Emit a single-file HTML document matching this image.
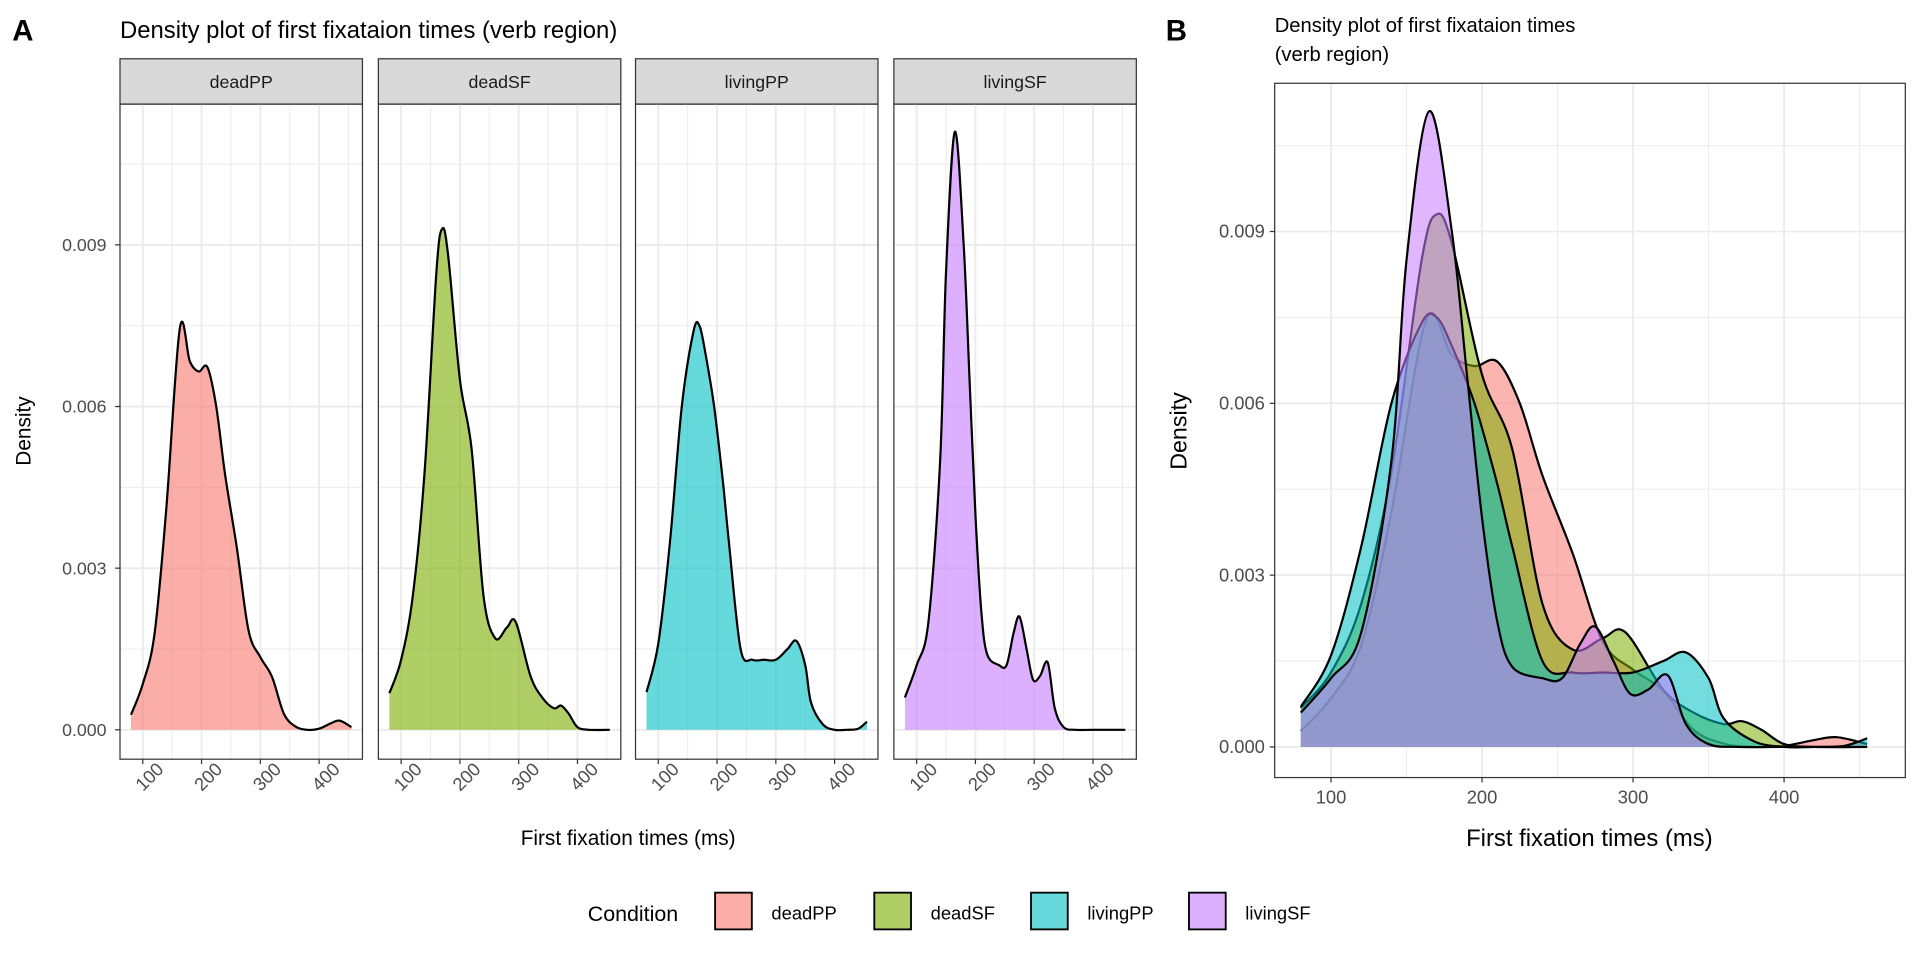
<!DOCTYPE html>
<html><head><meta charset="utf-8">
<style>
html,body{margin:0;padding:0;background:#fff;}
svg{display:block;font-family:"Liberation Sans",Arial,sans-serif;}
</style></head>
<body>
<svg id="chart" width="1920" height="960" viewBox="0 0 1568 784" xmlns="http://www.w3.org/2000/svg">
<rect width="1568" height="784" fill="#fff"/>
<g id="panelA"></g>
<g id="panelB"></g>
<g id="legend"></g>
</svg>
<script>
const conditions = ["deadPP","deadSF","livingPP","livingSF"];
const colors = ["#F8766D","#7CAE00","#00BFC4","#C77CFF"];
const xDeadPP = [80,100,120,140,163,180,195,210,225,240,260,280,300,320,340,360,380,400,420,435,455];
const yDeadPP = [0.00028,0.00085,0.00178,0.0041,0.00745,0.00684,0.00665,0.00673,0.0060,0.00474,0.00338,0.00184,0.00135,0.00098,0.0003,0.00006,0,0.00002,0.00012,0.00017,0.00005];
const xDeadSF = [80,100,120,140,160,170,180,200,220,240,260,280,295,320,340,360,372,385,400,420,455];
const yDeadSF = [0.00068,0.0013,0.0025,0.0048,0.0085,0.0093,0.0088,0.0065,0.0052,0.0025,0.0017,0.0019,0.0020,0.0010,0.0006,0.0004,0.00045,0.0003,0.00005,0,0];
const xLivingPP = [80,100,120,140,160,170,180,195,210,220,240,260,280,300,320,335,350,360,380,400,420,440,455];
const yLivingPP = [0.0007,0.0016,0.0035,0.0060,0.0074,0.0075,0.0070,0.0060,0.0046,0.0035,0.0015,0.0013,0.0013,0.0013,0.0015,0.00165,0.0012,0.0005,0.0001,0,0,0.00002,0.00015];
const xLivingSF = [80,100,120,140,150,165,180,190,200,210,220,240,253,265,275,287,298,310,323,335,350,370,400,455];
const yLivingSF = [0.0006,0.0012,0.0020,0.0050,0.0085,0.0111,0.0090,0.0065,0.0040,0.0022,0.0014,0.0012,0.0012,0.0018,0.0021,0.0015,0.00093,0.0010,0.00125,0.0004,0.00005,0,0,0];
const seriesX = [xDeadPP,xDeadSF,xLivingPP,xLivingSF];
const seriesY = [yDeadPP,yDeadSF,yLivingPP,yLivingSF];
const xTicks = [100,200,300,400];
const xMinor = [150,250,350,450];
const yTicks = [0,0.003,0.006,0.009];
const yTickLabels = ["0.000","0.003","0.006","0.009"];
const yMinor = [0.0015,0.0045,0.0075,0.0105];

const NS="http://www.w3.org/2000/svg";
function mk(tag,attrs,parent,text){const e=document.createElementNS(NS,tag);for(const k in attrs)e.setAttribute(k,attrs[k]);if(text!==undefined)e.textContent=text;parent.appendChild(e);return e;}
function smoothPath(pts){let d="M"+pts[0][0].toFixed(2)+","+pts[0][1].toFixed(2);
 for(let i=0;i<pts.length-1;i++){const p0=pts[Math.max(0,i-1)],p1=pts[i],p2=pts[i+1],p3=pts[Math.min(pts.length-1,i+2)];
  const c1=[p1[0]+(p2[0]-p0[0])/6,p1[1]+(p2[1]-p0[1])/6],c2=[p2[0]-(p3[0]-p1[0])/6,p2[1]-(p3[1]-p1[1])/6];
  d+="C"+c1[0].toFixed(2)+","+c1[1].toFixed(2)+" "+c2[0].toFixed(2)+","+c2[1].toFixed(2)+" "+p2[0].toFixed(2)+","+p2[1].toFixed(2);}
 return d;}
function drawDensity(g,xs,ys,sx,sy,color,op,name){
 const pts=xs.map((x,i)=>[sx(x),sy(ys[i])]);
 const line=smoothPath(pts);
 const area=mk("path",{d:line+"L"+pts[pts.length-1][0]+","+sy(0)+"L"+pts[0][0]+","+sy(0)+"Z",fill:color,"fill-opacity":op,stroke:"none"},g);
 
 
 const ln=mk("path",{d:line,fill:"none",stroke:"#000","stroke-width":1.8,"stroke-linejoin":"round"},g);
 
 
}
const A=document.getElementById("panelA");
const t1=mk("text",{x:10,y:33,"font-size":24,"font-weight":"bold"},A,"A");

const t2=mk("text",{x:98,y:31,"font-size":19.5},A,"Density plot of first fixataion times (verb region)");

const aTop=85,aBot=620;
const syA=v=>596-v*44000;
const facetL=[98,309,519,730],facetW=198;
yTicks.forEach((v,i)=>{const tl=mk("text",{x:87,y:syA(v)+5,"text-anchor":"end","font-size":14.5,fill:"#4d4d4d"},A,yTickLabels[i]);
 
 mk("line",{x1:94,x2:98,y1:syA(v),y2:syA(v),stroke:"#333","stroke-width":1},A);});
const yt=mk("text",{x:0,y:0,transform:"translate(25,352) rotate(-90)","text-anchor":"middle","font-size":17},A,"Density");

facetL.forEach((L,f)=>{
 const g=mk("g",{},A);
 
 const sx=v=>L+(v-61.25)*0.48;
 mk("rect",{x:L,y:48,width:facetW,height:37,fill:"#d9d9d9",stroke:"#333","stroke-width":1},g);
 const sl=mk("text",{x:L+facetW/2,y:72,"text-anchor":"middle","font-size":14.5,fill:"#1a1a1a"},g,conditions[f]);
 
 yMinor.forEach(v=>mk("line",{x1:L,x2:L+facetW,y1:syA(v),y2:syA(v),stroke:"#ebebeb","stroke-width":0.8},g));
 xMinor.forEach(v=>{if(sx(v)<L+facetW)mk("line",{x1:sx(v),x2:sx(v),y1:aTop,y2:aBot,stroke:"#ebebeb","stroke-width":0.8},g);});
 yTicks.forEach(v=>mk("line",{x1:L,x2:L+facetW,y1:syA(v),y2:syA(v),stroke:"#ebebeb","stroke-width":1.5},g));
 xTicks.forEach(v=>mk("line",{x1:sx(v),x2:sx(v),y1:aTop,y2:aBot,stroke:"#ebebeb","stroke-width":1.5},g));
 drawDensity(g,seriesX[f],seriesY[f],sx,syA,colors[f],0.6,conditions[f]);
 mk("rect",{x:L,y:aTop,width:facetW,height:aBot-aTop,fill:"none",stroke:"#333","stroke-width":1},g);
 xTicks.forEach(v=>{mk("line",{x1:sx(v),x2:sx(v),y1:aBot,y2:aBot+4,stroke:"#333","stroke-width":1},g);
  const xl=mk("text",{x:0,y:0,transform:`translate(${sx(v)+9},${aBot+18}) rotate(-45)`,"text-anchor":"middle","font-size":15,fill:"#4d4d4d"},g,String(v));
  });
});
const xt=mk("text",{x:513,y:690,"text-anchor":"middle","font-size":17},A,"First fixation times (ms)");


const B=document.getElementById("panelB");
const bL=1041,bR=1556,bT=68,bB=635;
const sxB=v=>1087+(v-100)*1.2333;
const syB=v=>610-v*46770;
const b1=mk("text",{x:952,y:33,"font-size":24,"font-weight":"bold"},B,"B");

const b2=mk("text",{x:1041,y:26,"font-size":16.5},B,"Density plot of first fixataion times");

const b3=mk("text",{x:1041,y:50,"font-size":16.5},B,"(verb region)");

yMinor.forEach(v=>mk("line",{x1:bL,x2:bR,y1:syB(v),y2:syB(v),stroke:"#ebebeb","stroke-width":0.8},B));
xMinor.forEach(v=>mk("line",{x1:sxB(v),x2:sxB(v),y1:bT,y2:bB,stroke:"#ebebeb","stroke-width":0.8},B));
yTicks.forEach(v=>mk("line",{x1:bL,x2:bR,y1:syB(v),y2:syB(v),stroke:"#ebebeb","stroke-width":1.5},B));
xTicks.forEach(v=>mk("line",{x1:sxB(v),x2:sxB(v),y1:bT,y2:bB,stroke:"#ebebeb","stroke-width":1.5},B));
const gB=mk("g",{},B);
conditions.forEach((c,i)=>drawDensity(gB,seriesX[i],seriesY[i],sxB,syB,colors[i],0.55,"overlay-"+c));
mk("rect",{x:bL,y:bT,width:bR-bL,height:bB-bT,fill:"none",stroke:"#333","stroke-width":1},B);
yTicks.forEach((v,i)=>{mk("line",{x1:bL-4,x2:bL,y1:syB(v),y2:syB(v),stroke:"#333"},B);
 const l=mk("text",{x:bL-8,y:syB(v)+5,"text-anchor":"end","font-size":15,fill:"#4d4d4d"},B,yTickLabels[i]);
 });
xTicks.forEach(v=>{mk("line",{x1:sxB(v),x2:sxB(v),y1:bB,y2:bB+4,stroke:"#333"},B);
 const l=mk("text",{x:sxB(v),y:bB+21,"text-anchor":"middle","font-size":15,fill:"#4d4d4d"},B,String(v));
 });
const by=mk("text",{x:0,y:0,transform:"translate(969,352) rotate(-90)","text-anchor":"middle","font-size":19},B,"Density");

const bx=mk("text",{x:1298,y:691,"text-anchor":"middle","font-size":19.5},B,"First fixation times (ms)");


const Lg=document.getElementById("legend");
const lt=mk("text",{x:480,y:752,"font-size":17.5},Lg,"Condition");

const keyX=[584,714,842,971];
conditions.forEach((c,i)=>{const g=mk("g",{},Lg);
 
 mk("rect",{x:keyX[i],y:729,width:30,height:30,fill:colors[i],"fill-opacity":0.6,stroke:"#000","stroke-width":1.5},g);
 mk("text",{x:keyX[i]+46,y:751,"font-size":15},g,c);});
</script>
</body></html>
